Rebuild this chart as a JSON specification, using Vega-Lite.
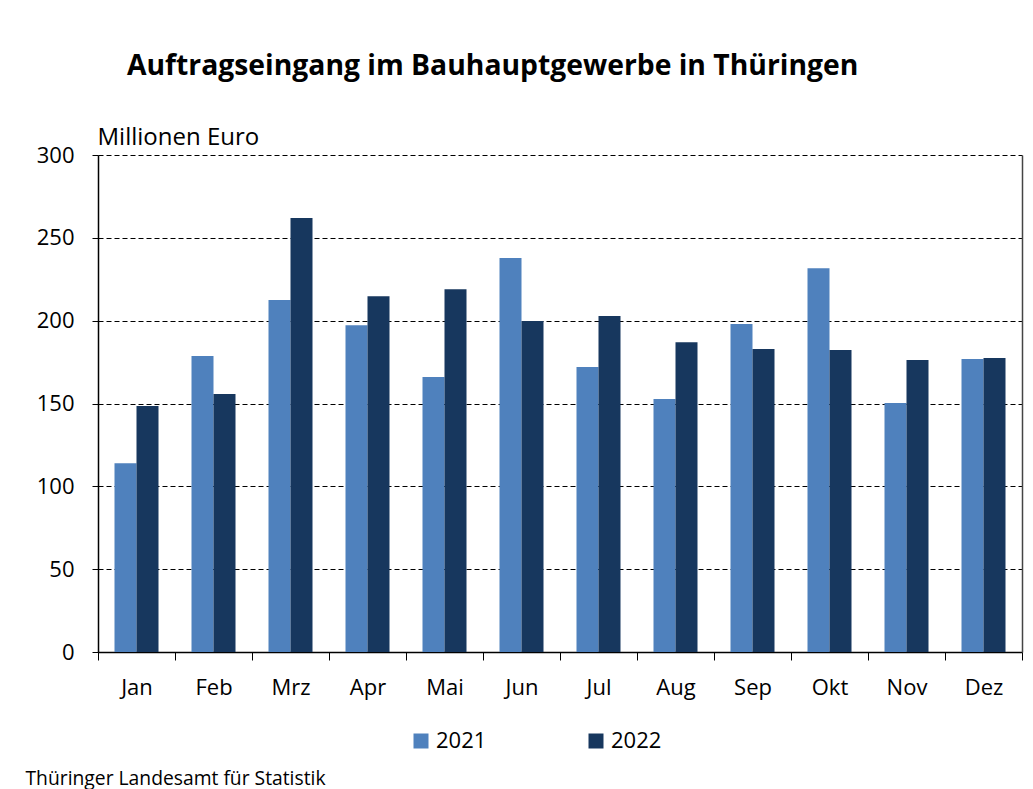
{
  "$schema": "https://vega.github.io/schema/vega-lite/v6.json",
  "width": 924,
  "height": 497,
  "autosize": "none",
  "padding": {"left": 98, "top": 155, "right": 11, "bottom": 137},
  "background": "white",
  "config": {
    "font": "Open Sans",
    "view": {"stroke": null},
    "axis": {"labelColor": "black", "titleColor": "black", "domainColor": "black", "tickColor": "black"}
  },
  "title": {
    "text": "Auftragseingang im Bauhauptgewerbe in Thüringen",
    "anchor": "start",
    "frame": "group",
    "orient": "top",
    "baseline": "alphabetic",
    "offset": 22,
    "dx": 29,
    "fontSize": 28.3,
    "fontWeight": "bold",
    "color": "black"
  },
  "data": {
    "values": [
      {"monat": "Jan", "jahr": "2021", "wert": 114},
      {"monat": "Jan", "jahr": "2022", "wert": 148.5},
      {"monat": "Feb", "jahr": "2021", "wert": 178.6},
      {"monat": "Feb", "jahr": "2022", "wert": 155.7},
      {"monat": "Mrz", "jahr": "2021", "wert": 212.4},
      {"monat": "Mrz", "jahr": "2022", "wert": 262},
      {"monat": "Apr", "jahr": "2021", "wert": 197.3},
      {"monat": "Apr", "jahr": "2022", "wert": 214.8},
      {"monat": "Mai", "jahr": "2021", "wert": 166},
      {"monat": "Mai", "jahr": "2022", "wert": 219},
      {"monat": "Jun", "jahr": "2021", "wert": 237.8},
      {"monat": "Jun", "jahr": "2022", "wert": 199.8},
      {"monat": "Jul", "jahr": "2021", "wert": 172},
      {"monat": "Jul", "jahr": "2022", "wert": 202.8},
      {"monat": "Aug", "jahr": "2021", "wert": 152.7},
      {"monat": "Aug", "jahr": "2022", "wert": 187},
      {"monat": "Sep", "jahr": "2021", "wert": 198},
      {"monat": "Sep", "jahr": "2022", "wert": 182.9},
      {"monat": "Okt", "jahr": "2021", "wert": 231.7},
      {"monat": "Okt", "jahr": "2022", "wert": 182.3},
      {"monat": "Nov", "jahr": "2021", "wert": 150.3},
      {"monat": "Nov", "jahr": "2022", "wert": 176.2},
      {"monat": "Dez", "jahr": "2021", "wert": 176.8},
      {"monat": "Dez", "jahr": "2022", "wert": 177.4}
    ]
  },
  "encoding": {
    "x": {
      "field": "monat",
      "type": "nominal",
      "sort": ["Jan", "Feb", "Mrz", "Apr", "Mai", "Jun", "Jul", "Aug", "Sep", "Okt", "Nov", "Dez"],
      "scale": {"paddingInner": 0, "paddingOuter": 0},
      "axis": {
        "title": "Thüringer Landesamt für Statistik",
        "titleX": -73,
        "titleY": 126,
        "titleAlign": "left",
        "titleAnchor": null,
        "titleBaseline": "middle",
        "titleFontSize": 19.3,
        "titleFontWeight": "normal",
        "labelAngle": 0,
        "labelFontSize": 22,
        "labelPadding": 17,
        "tickBand": "extent",
        "tickSize": 8,
        "domainWidth": 1.5,
        "grid": false
      }
    },
    "xOffset": {"field": "jahr", "type": "nominal", "scale": {"paddingInner": 0, "paddingOuter": 0.75}},
    "y": {
      "field": "wert",
      "type": "quantitative",
      "scale": {"domain": [0, 300]},
      "axis": {
        "values": [0, 50, 100, 150, 200, 250, 300],
        "title": "Millionen Euro",
        "titleAngle": 0,
        "titleX": -1,
        "titleY": -18,
        "titleAlign": "left",
        "titleAnchor": null,
        "titleBaseline": "middle",
        "titleFontSize": 24,
        "titleFontWeight": "normal",
        "labelFontSize": 22,
        "labelPadding": 18,
        "tickSize": 6,
        "domainWidth": 1.5,
        "grid": true,
        "gridColor": "black",
        "gridDash": [5, 3],
        "gridWidth": 1
      }
    },
    "color": {
      "field": "jahr",
      "type": "nominal",
      "scale": {"domain": ["2021", "2022"], "range": ["#4f81bd", "#17375e"]},
      "legend": {
        "title": null,
        "orient": "none",
        "direction": "horizontal",
        "legendX": 312,
        "legendY": 575,
        "symbolType": "square",
        "symbolSize": 225,
        "symbolStrokeWidth": 0,
        "labelFontSize": 22,
        "labelColor": "black",
        "columnPadding": 98
      }
    }
  },
  "layer": [
    {"mark": {"type": "bar", "strokeWidth": 0}},
    {
      "mark": {"type": "bar", "opacity": 0},
      "encoding": {
        "y": {
          "field": "wert",
          "type": "quantitative",
          "scale": {"domain": [0, 300]},
          "axis": {"orient": "right", "labels": false, "ticks": false, "grid": false, "title": null, "domainColor": "#444", "domainWidth": 1.5}
        }
      }
    }
  ],
  "resolve": {"axis": {"y": "independent"}}
}
